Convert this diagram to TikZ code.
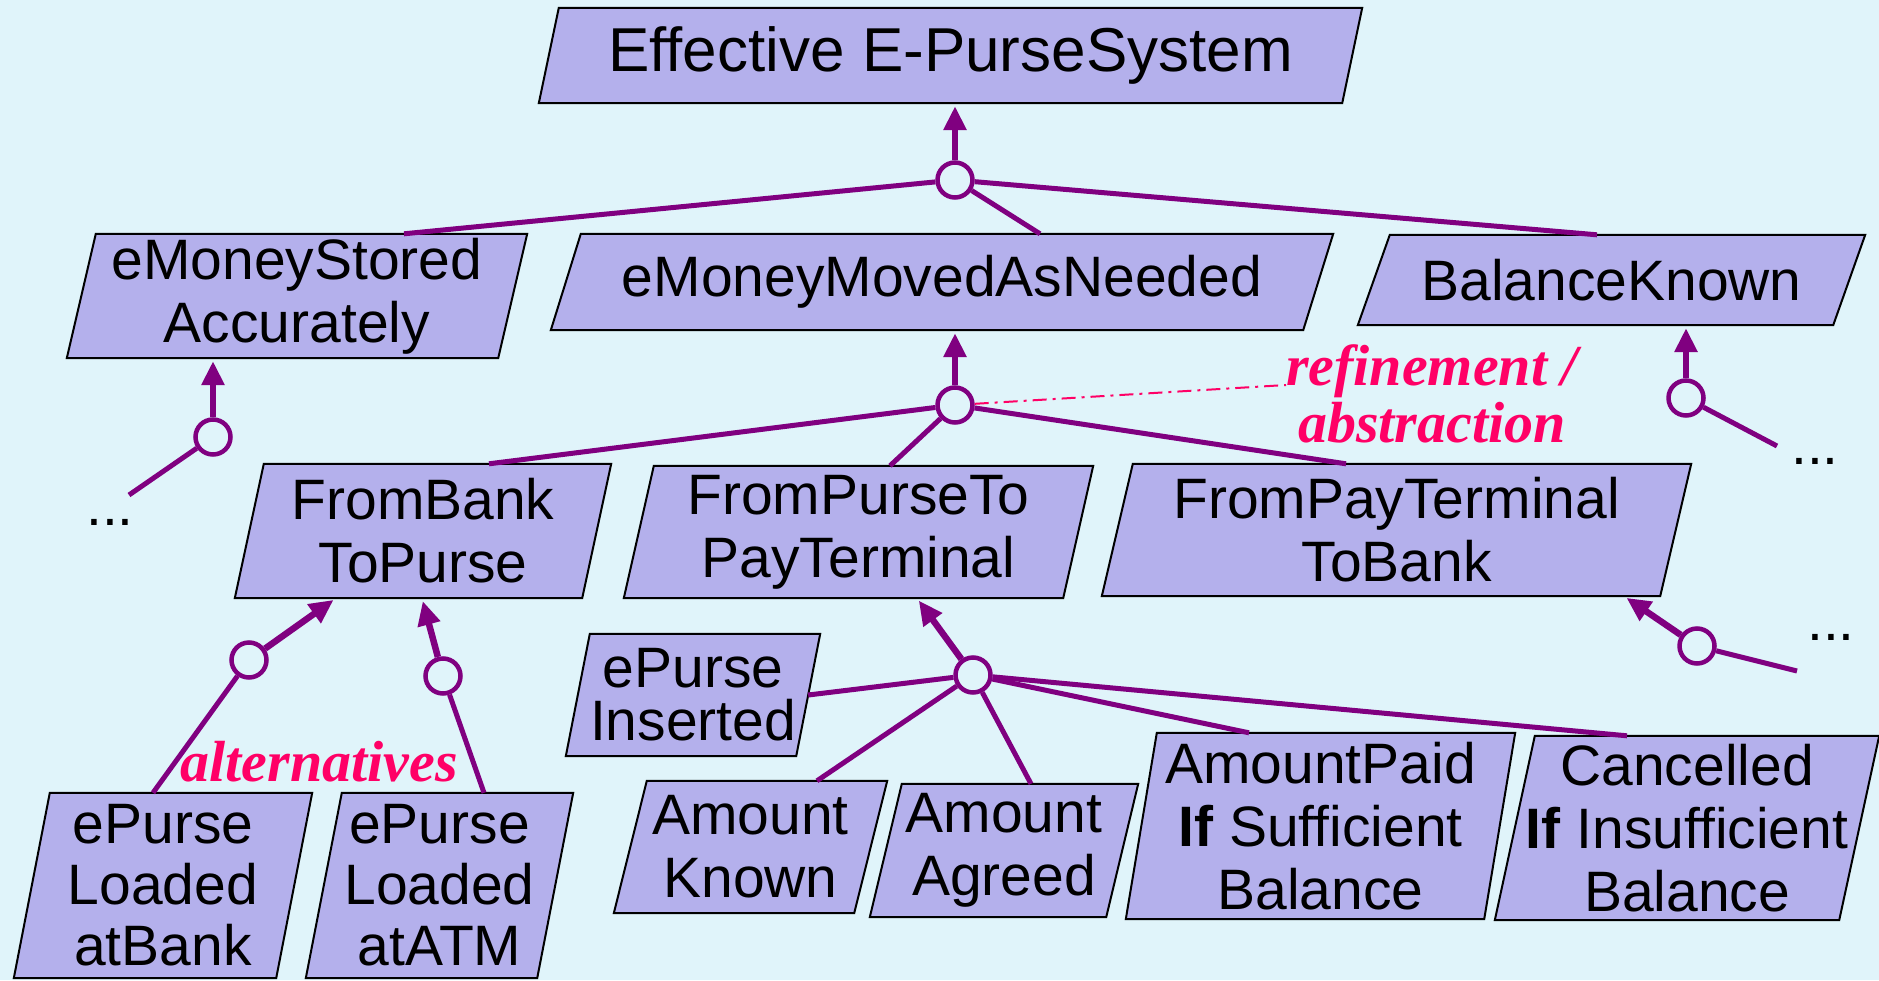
\documentclass[tikz,border=0pt]{standalone}
\usepackage{fontspec}
\setmainfont{Liberation Sans}
\newfontfamily\notefont{Liberation Serif}
\usetikzlibrary{arrows.meta,calc}
\pgfdeclarelayer{back}
\pgfsetlayers{back,main}
\definecolor{bgcol}{RGB}{224,244,250}
\definecolor{goalfill}{RGB}{180,176,236}
\definecolor{linkcol}{RGB}{128,0,128}
\definecolor{notecol}{RGB}{255,0,102}
\tikzset{
  goal/.style={inner sep=0pt, align=center, font=\fontsize{57}{63}\selectfont},
  goalbox/.style={fill=goalfill, draw=black, line width=2pt, line join=miter},
  andnode/.style={circle, draw=linkcol, line width=4.5pt, fill=bgcol, minimum size=35pt, inner sep=0pt},
  link/.style={draw=linkcol, line width=5pt},
  refine/.style={draw=linkcol, line width=6.5pt, shorten >=3pt, -{Triangle[length=24pt,width=22pt]}},
  notelink/.style={draw=notecol, line width=2pt, dash pattern=on 14pt off 6pt on 3pt off 6pt},
  note/.style={text=notecol, inner sep=0pt, align=center, font=\notefont\fontsize{58}{57}\selectfont\bfseries\itshape},
  dots/.style={inner sep=0pt, font=\fontsize{57}{63}\selectfont}
}
\begin{document}
\begin{tikzpicture}[x=1pt,y=-1pt]
\useasboundingbox (0,0) rectangle (1879,980);
\node[goal, minimum width=823pt, minimum height=95pt, font=\fontsize{62}{66}\selectfont] (g0) at (950.5,55.5){Effective E-PurseSystem};
\node[goal, minimum width=460pt, minimum height=124pt] (g1) at (297,296){eMoneyStored\\Accurately};
\node[goal, minimum width=782pt, minimum height=96pt] (g2) at (942,282){eMoneyMovedAsNeeded};
\node[goal, minimum width=507pt, minimum height=90pt] (g3) at (1611.5,280){BalanceKnown};
\node[goal, minimum width=376pt, minimum height=134pt] (g4) at (423,531){FromBank\\ToPurse};
\node[goal, minimum width=469pt, minimum height=132pt] (g5) at (858.5,532){FromPurseTo\\PayTerminal};
\node[goal, minimum width=589pt, minimum height=132pt] (g6) at (1396.5,530){FromPayTerminal\\ToBank};
\node[goal, minimum width=298pt, minimum height=185pt, font=\fontsize{57}{61}\selectfont] (g7) at (163,885.5){ePurse\\Loaded\\atBank};
\node[goal, minimum width=267pt, minimum height=185pt, font=\fontsize{57}{61}\selectfont] (g8) at (439.5,885.5){ePurse\\Loaded\\atATM};
\node[goal, minimum width=254pt, minimum height=122pt, font=\fontsize{57}{53}\selectfont] (g9) at (693,695){ePurse\\Inserted};
\node[goal, minimum width=273pt, minimum height=132pt] (g10) at (750.5,847){Amount\\Known};
\node[goal, minimum width=268pt, minimum height=133pt] (g11) at (1004,850.5){Amount\\Agreed};
\node[goal, minimum width=389pt, minimum height=186pt] (g12) at (1320.5,826){AmountPaid\\\textbf{If} Sufficient\\Balance};
\node[goal, minimum width=384pt, minimum height=184pt] (g13) at (1687,828){Cancelled\\\textbf{If} Insufficient\\Balance};
\node[andnode] (and0) at (955,180){};
\node[andnode] (and1) at (213,437){};
\node[andnode] (and2) at (955,405){};
\node[andnode] (and3) at (1686,398){};
\node[andnode] (and4) at (249,660){};
\node[andnode] (and5) at (443,676){};
\node[andnode] (and6) at (973,675){};
\node[andnode] (and7) at (1697,646){};
\coordinate (end1) at (129,495);
\coordinate (end3) at (1777,446);
\coordinate (end7) at (1797,671);
\node[dots] (dots1) at (110,522){...};
\node[dots] (dots3) at (1815,461){...};
\node[dots] (dots7) at (1831,637){...};
\node[note] (refnote) at (1432,394){refinement /\\abstraction};
\node[note] (altnote) at (319,762){alternatives};
\draw[refine](and0) -- (and0 |- g0.south);
\draw[link](and0) -- ([xshift=107pt]g1.north);
\draw[link](and0) -- ([xshift=98pt]g2.north);
\draw[link](and0) -- ([xshift=-14.5pt]g3.north);
\draw[refine](and1) -- (and1 |- g1.south);
\draw[link](and1) -- (end1);
\draw[refine](and3) -- (and3 |- g3.south);
\draw[link](and3) -- (end3);
\draw[refine](and2) -- (and2 |- g2.south);
\draw[link](and2) -- ([xshift=66pt]g4.north);
\draw[link](and2) -- ([xshift=31.5pt]g5.north);
\draw[link](and2) -- ([xshift=-50.5pt]g6.north);
\draw[notelink](and2) -- ([yshift=9pt]refnote.west);
\draw[refine](and4) -- ([xshift=-87pt]g4.south);
\draw[link](and4) -- ([xshift=-10pt]g7.north);
\draw[refine](and5) -- ([xshift=-1pt]g4.south);
\draw[link](and5) -- ([xshift=44.5pt]g8.north);
\draw[refine](and6) -- ([xshift=58.5pt]g5.south);
\draw[link](and6) -- ([xshift=-12pt]g9.east);
\draw[link](and6) -- ([xshift=66.5pt]g10.north);
\draw[link](and6) -- ([xshift=27pt]g11.north);
\draw[link](and6) -- ([xshift=-71.5pt]g12.north);
\draw[link](and6) -- ([xshift=-60pt]g13.north);
\draw[refine](and7) -- ([xshift=227.5pt]g6.south);
\draw[link](and7) -- (end7);
\begin{pgfonlayer}{back}
\fill[bgcol] (0,0) rectangle (1879,980);
\foreach \gid/\sl in {g0/20,g1/29,g2/30,g3/32,g4/29,g5/30,g6/31,g7/36,g8/36,g9/24,g10/33,g11/32,g12/31,g13/40}
  \draw[goalbox] ([xshift=\sl pt]\gid.north west) -- (\gid.north east) -- ([xshift=-\sl pt]\gid.south east) -- (\gid.south west) -- cycle;
\end{pgfonlayer}
\end{tikzpicture}
\end{document}
